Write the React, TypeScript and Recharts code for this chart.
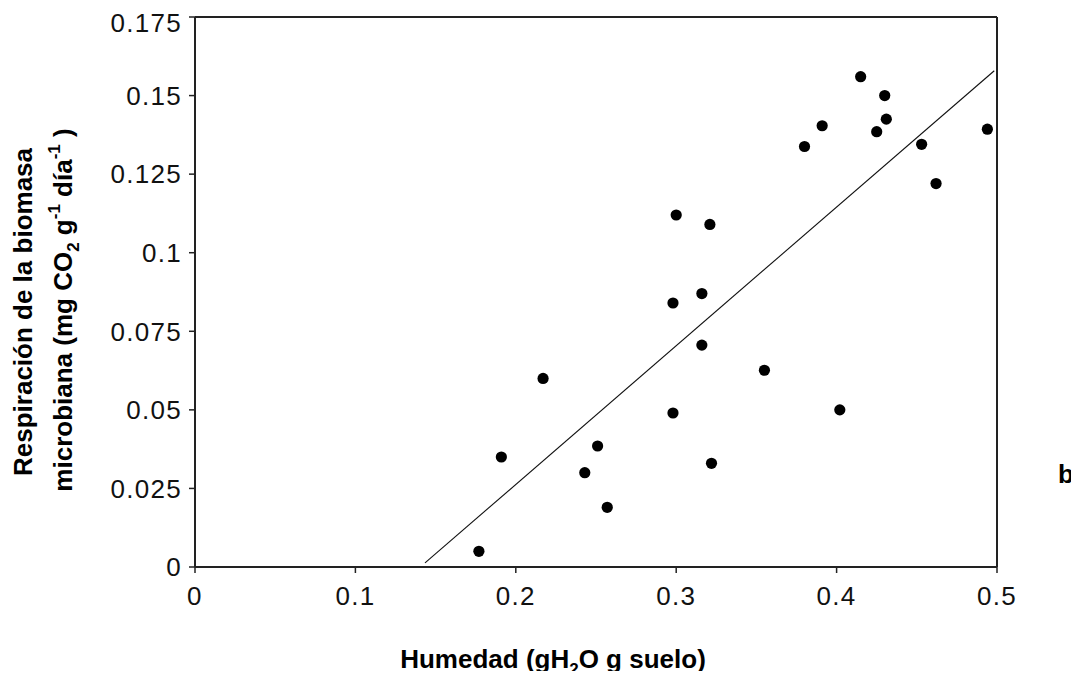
import { ReferenceLine, Scatter, ScatterChart, XAxis, YAxis } from "recharts"

// valores
const humedad = [
  0.177, 0.191, 0.217, 0.243, 0.251, 0.257, 0.298, 0.298, 0.300, 0.316, 0.316, 0.321,
  0.322, 0.355, 0.380, 0.391, 0.402, 0.415, 0.425, 0.430, 0.431, 0.453, 0.462, 0.494,
]
const respiracion = [
  0.005, 0.035, 0.060, 0.030, 0.0385, 0.019, 0.049, 0.084, 0.112, 0.087, 0.0706, 0.109,
  0.033, 0.0626, 0.1338, 0.1404, 0.050, 0.156, 0.1385, 0.150, 0.1425, 0.1345, 0.122, 0.1393,
]

// recta de regresión (extremos)
const ajusteX = [0.1434, 0.4983]
const ajusteY = [0.0013, 0.1579]

const xTicks = [0, 0.1, 0.2, 0.3, 0.4, 0.5]
const yTicks = [0, 0.025, 0.05, 0.075, 0.1, 0.125, 0.15, 0.175]

const puntos = humedad.map((x, i) => ({ x, y: respiracion[i] }))
const recta = ajusteX.map((x, i) => ({ x, y: ajusteY[i] }))

const W = 1063
const H = 663
const axisColor = "#222"
const tickStyle = { fontSize: 26, fill: "#111", fontFamily: "'Liberation Sans', Arial, sans-serif", letterSpacing: 1.3 }
const labelFont = "'Liberation Sans', Arial, sans-serif"

const Dot = (props: any) => <circle cx={props.cx} cy={props.cy} r={5.6} fill="#000" />

export default function App() {
  return (
    <div style={{ position: "relative", width: W, height: H }}>
      <ScatterChart width={W} height={H} margin={{ top: 9, right: 74, bottom: 0, left: 0 }}>
        <XAxis
          type="number"
          dataKey="x"
          domain={[0, 0.5]}
          ticks={xTicks}
          height={104}
          tickSize={6}
          tickMargin={14}
          tick={tickStyle}
          axisLine={{ stroke: axisColor, strokeWidth: 2 }}
          tickLine={{ stroke: axisColor, strokeWidth: 1.5 }}
          allowDataOverflow
        />
        <YAxis
          type="number"
          dataKey="y"
          domain={[0, 0.175]}
          ticks={yTicks}
          width={187}
          tickSize={6}
          tickMargin={7}
          tick={tickStyle}
          axisLine={{ stroke: axisColor, strokeWidth: 2 }}
          tickLine={{ stroke: axisColor, strokeWidth: 1.5 }}
          allowDataOverflow
        />
        <ReferenceLine y={0.175} stroke={axisColor} strokeWidth={2} />
        <ReferenceLine x={0.5} stroke={axisColor} strokeWidth={2} />
        <Scatter
          data={recta}
          line={{ stroke: "#111", strokeWidth: 1.1 }}
          shape={() => <g />}
          isAnimationActive={false}
        />
        <Scatter data={puntos} shape={Dot} isAnimationActive={false} />
      </ScatterChart>
      <svg
        width={1071}
        height={671}
        style={{ position: "absolute", left: 0, top: 0, pointerEvents: "none", overflow: "visible" }}
        fontFamily={labelFont}
        fontWeight="bold"
        fill="#000"
      >
        <text x={24} y={304} fontSize={26} textAnchor="middle" transform="rotate(-90, 24, 304)">
          Respiración de la biomasa
        </text>
        <text x={64} y={302} fontSize={26} textAnchor="middle" transform="rotate(-90, 64, 302)">
          <tspan>microbiana  (mg CO</tspan>
          <tspan fontSize={17} dy={7}>2</tspan>
          <tspan dy={-7}> g</tspan>
          <tspan fontSize={17} dy={-12}>-1</tspan>
          <tspan dy={12}> día</tspan>
          <tspan fontSize={17} dy={-12}>-1</tspan>
          <tspan dy={12}> )</tspan>
        </text>
        <text x={545} y={660} fontSize={26} textAnchor="middle">
          <tspan>Humedad (gH</tspan>
          <tspan fontSize={17} dy={7}>2</tspan>
          <tspan dy={-7}>O g suelo)</tspan>
        </text>
        <text x={1050} y={475} fontSize={26}>
          b
        </text>
      </svg>
    </div>
  )
}
